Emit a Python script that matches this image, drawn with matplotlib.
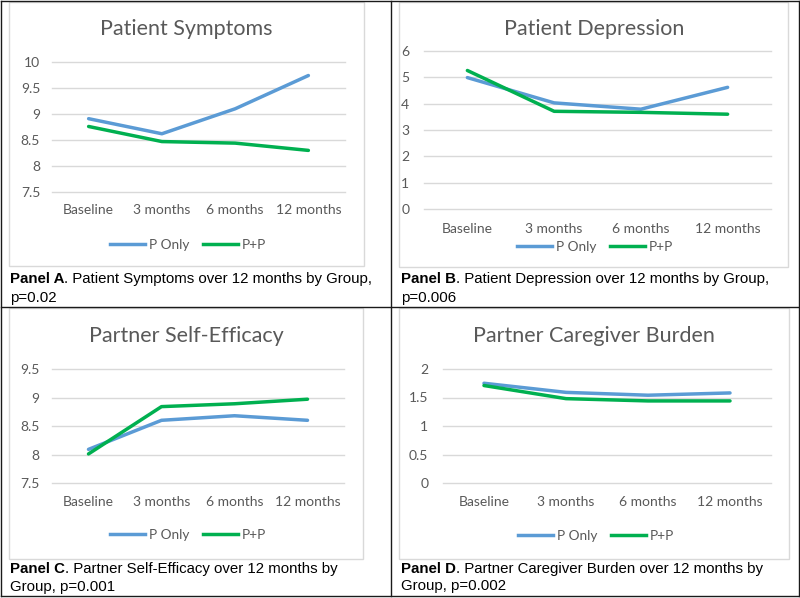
import matplotlib
matplotlib.use('Agg')
import matplotlib.pyplot as plt
from matplotlib.patches import Rectangle
from matplotlib.lines import Line2D
from matplotlib.ticker import FuncFormatter

W, H = 800, 598

categories = ['Baseline', '3 months', '6 months', '12 months']
series_names = ['P Only', 'P+P']

symptoms_p_only = [8.91, 8.62, 9.10, 9.74]
symptoms_pp = [8.76, 8.47, 8.44, 8.30]
depression_p_only = [4.99, 4.03, 3.79, 4.62]
depression_pp = [5.26, 3.71, 3.67, 3.60]
efficacy_p_only = [8.09, 8.60, 8.68, 8.60]
efficacy_pp = [8.01, 8.84, 8.89, 8.97]
burden_p_only = [1.75, 1.59, 1.54, 1.58]
burden_pp = [1.71, 1.48, 1.44, 1.44]

titles = ['Patient Symptoms', 'Patient Depression',
          'Partner Self-Efficacy', 'Partner Caregiver Burden']
yticks_list = [[7.5, 8, 8.5, 9, 9.5, 10],
               [0, 1, 2, 3, 4, 5, 6],
               [7.5, 8, 8.5, 9, 9.5],
               [0, 0.5, 1, 1.5, 2]]
caption_bold = ['Panel A', 'Panel B', 'Panel C', 'Panel D']
caption_line1 = ['. Patient Symptoms over 12 months by Group,',
                 '. Patient Depression over 12 months by Group,',
                 '. Partner Self-Efficacy over 12 months by',
                 '. Partner Caregiver Burden over 12 months by']
caption_line2 = ['p=0.02', 'p=0.006', 'Group, p=0.001', 'Group, p=0.002']

data = [(symptoms_p_only, symptoms_pp), (depression_p_only, depression_pp),
        (efficacy_p_only, efficacy_pp), (burden_p_only, burden_pp)]

COL_BLUE = '#5B9BD5'
COL_GREEN = '#00B050'
GRAY = '#595959'
GRID = '#D9D9D9'
CHART_FONT = 'Lato'
CAP_FONT = 'Liberation Sans'

# layout (pixels)
layout = [
    dict(plot=(52, 62, 345, 192), box=(9, 2, 364, 266), title=(186, 35),
         legend=(188, 245), ypad=8.5, xpad=9, cap=(10, 283, 302)),
    dict(plot=(424, 51, 771, 209), box=(399, 2, 788, 267), title=(594, 35),
         legend=(595, 247), ypad=10.5, xpad=10, cap=(401, 283, 302)),
    dict(plot=(52, 369, 344, 483), box=(9, 308, 363, 559), title=(186, 342),
         legend=(188, 535), ypad=9, xpad=9, cap=(10, 573, 591)),
    dict(plot=(443, 369, 771, 483), box=(399, 308, 789, 559), title=(594, 342),
         legend=(596, 536), ypad=10.5, xpad=9, cap=(401, 573, 590)),
]

fig = plt.figure(figsize=(W / 100, H / 100), dpi=100)
fig.patch.set_facecolor('white')


def fx(x):
    return x / W


def fy(y):
    return 1 - y / H


fmt = FuncFormatter(lambda v, p: f'{v:g}')

for i, lay in enumerate(layout):
    x0, yt, x1, yb = lay['plot']
    ax = fig.add_axes([fx(x0), fy(yb), (x1 - x0) / W, (yb - yt) / H])
    p_only, pp = data[i]
    xs = list(range(len(categories)))
    ax.plot(xs, p_only, color=COL_BLUE, lw=2.5, solid_capstyle='round',
            solid_joinstyle='round', zorder=3)
    ax.plot(xs, pp, color=COL_GREEN, lw=2.5, solid_capstyle='round',
            solid_joinstyle='round', zorder=3)
    ax.set_xlim(-0.5, len(categories) - 0.5)
    yt_ = yticks_list[i]
    ax.set_ylim(yt_[0], yt_[-1])
    ax.set_yticks(yt_)
    ax.yaxis.set_major_formatter(fmt)
    ax.set_xticks(xs)
    ax.set_xticklabels(categories)
    for s in ax.spines.values():
        s.set_visible(False)
    ax.grid(axis='y', color=GRID, lw=1.0)
    ax.set_axisbelow(True)
    for gl in ax.get_ygridlines():
        gl.set_clip_on(False)
    ax.tick_params(axis='y', length=0, pad=lay['ypad'], labelsize=10,
                   labelcolor=GRAY)
    ax.tick_params(axis='x', length=0, pad=lay['xpad'], labelsize=10,
                   labelcolor=GRAY)
    for lab in ax.get_xticklabels() + ax.get_yticklabels():
        lab.set_fontfamily(CHART_FONT)
    ax.patch.set_visible(False)

    # chart box
    bx0, byt, bx1, byb = lay['box']
    fig.patches.append(Rectangle((fx(bx0), fy(byb)), (bx1 - bx0) / W,
                                 (byb - byt) / H, transform=fig.transFigure,
                                 fill=False, edgecolor=GRID, lw=1.0))
    # title
    tx, ty = lay['title']
    fig.text(fx(tx), fy(ty), titles[i], ha='center', va='baseline',
             fontsize=15.5, color=GRAY, family=CHART_FONT)
    # legend
    lx, ly = lay['legend']
    handles = [Line2D([], [], color=COL_BLUE, lw=2.5),
               Line2D([], [], color=COL_GREEN, lw=2.5)]
    fig.legend(handles, series_names, loc='center',
               bbox_to_anchor=(fx(lx), fy(ly)), ncol=2, frameon=False,
               handlelength=2.6, handletextpad=0.25, columnspacing=1.0,
               prop={'family': CHART_FONT, 'size': 9.8}, labelcolor=GRAY)

# captions
renderer = fig.canvas.get_renderer()
for i, lay in enumerate(layout):
    cx, cy1, cy2 = lay['cap']
    tb = fig.text(fx(cx), fy(cy1), caption_bold[i], ha='left', va='baseline',
                  fontsize=10.8, fontweight='bold', family=CAP_FONT,
                  color='black')
    bb = tb.get_window_extent(renderer=renderer)
    fig.text(bb.x1 / (fig.get_figwidth() * fig.dpi), fy(cy1), caption_line1[i],
             ha='left', va='baseline', fontsize=10.8, family=CAP_FONT,
             color='black')
    fig.text(fx(cx), fy(cy2), caption_line2[i], ha='left', va='baseline',
             fontsize=10.8, family=CAP_FONT, color='black')

# table borders
border = '#1a1a1a'
for (xa, ya, xb, yb2) in [(0.5, 0.8, 799, 0.8), (0.5, 596, 799, 596),
                          (0.8, 0.5, 0.8, 596), (799, 0.5, 799, 596),
                          (390.5, 0.5, 390.5, 596), (0.5, 306.5, 799, 306.5)]:
    fig.lines.append(Line2D([fx(xa), fx(xb)], [fy(ya), fy(yb2)],
                            transform=fig.transFigure, color=border, lw=1.0))

fig.savefig('out.png', dpi=100, facecolor='white')
